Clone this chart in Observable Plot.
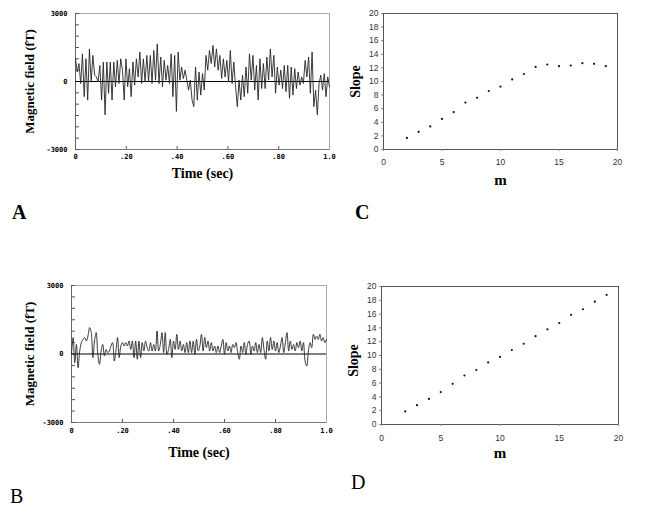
<!DOCTYPE html>
<html><head><meta charset="utf-8">
<script src="https://cdn.jsdelivr.net/npm/d3@7"></script>
<script src="https://cdn.jsdelivr.net/npm/@observablehq/plot@0.6"></script>
<style>
html,body{margin:0;padding:0;background:#fff;}
body{width:653px;height:527px;position:relative;overflow:hidden;}
.panel{position:absolute;}
.letter{position:absolute;font-family:"Liberation Serif",serif;font-size:20px;line-height:20px;color:#000;}
</style></head><body>
<script>
// Panel A: magnetic field trace (fT), evenly sampled over 1 s
const fieldA = [1000, 420, 790, -90, 1220, -670, 1000, -820, 1440, -15, 1150, 280, 200, -15, 710, -820, 860, -1470, 860, -520, 860, -820, 860, -230, 930, -90, 1000, 500, -820, 1000, -230, 570, -670, 860, -160, 1000, 200, 1300, -90, 1000, -15, 1150, -15, 1150, -90, 1370, 60, 1660, -90, 1080, -230, 930, 60, 710, -90, 1220, -670, 1150, -1320, 1300, 60, 640, 130, 500, 60, -380, 60, -820, -1110, 640, -820, 420, -600, 350, -380, 1150, 500, 1370, 790, 1590, 640, 1440, 500, 1150, 130, 1000, 200, 930, -15, 1370, -90, 860, -230, -1110, 60, -820, 280, -670, 640, -520, 1220, 60, 1150, -380, 710, -820, 1000, -310, 790, -310, 1080, 60, 1440, 200, 1150, -520, 640, -160, 500, -310, 710, -450, 710, -740, 640, -600, 570, -310, 420, -160, 200, -90, 930, 200, 1080, -520, 1300, -1110, -380, -1470, -90, 280, -380, 350, -670, 200, -230];
// Panel B: magnetic field trace (fT), evenly sampled over 1 s
const fieldB = [-15, 720, -380, 420, -600, 130, 500, 640, 720, 570, 790, 1160, 940, -160, 570, 940, -15, -450, 130, 420, -90, 200, 60, 130, 350, 500, -310, 130, 720, -160, 350, 500, 350, 500, 350, 570, 200, 570, -160, 570, -230, 570, -160, 500, 130, 570, 280, 130, 500, 130, 420, 130, 1010, 130, 420, 940, 60, 940, -15, 200, 640, -160, 570, 200, 860, 200, 570, 130, 420, 60, 500, 60, 570, 60, 570, -15, 640, 130, 350, 860, 130, 720, 280, 570, 130, 500, 130, 350, 60, 350, 60, 350, 640, -15, 500, 130, 350, 60, 420, 280, 500, 60, -230, 350, 60, 500, -15, 420, 570, -15, 350, 130, 500, 60, 420, 60, 720, 200, -230, 570, 130, 720, 200, 570, 130, 500, 60, 350, 720, 60, 500, 940, 130, 570, 200, 420, 130, 500, 280, 570, 130, 500, -310, -530, 130, 500, 280, 860, 640, 790, 640, 860, 570, 720, 500, 640];
// Panels C and D: slope vs m
const mValues = [2, 3, 4, 5, 6, 7, 8, 9, 10, 11, 12, 13, 14, 15, 16, 17, 18, 19];
const slopeC = [1.7, 2.6, 3.4, 4.5, 5.5, 6.9, 7.6, 8.6, 9.25, 10.3, 11.1, 12.15, 12.5, 12.25, 12.35, 12.7, 12.6, 12.25];
const slopeD = [1.9, 2.8, 3.7, 4.7, 5.9, 7.1, 7.9, 9.0, 9.8, 10.8, 11.7, 12.8, 13.8, 14.7, 15.9, 16.7, 17.8, 18.8];
// Tick values and labels
const timeTicks = [0, 0.2, 0.4, 0.6, 0.8, 1.0];
const timeTickLabels = ["0", ".20", ".40", ".60", ".80", "1.0"];
const fieldTicks = [-3000, 0, 3000];
const fieldTickLabels = ["-3000", "0", "3000"];
const fieldMinorTicks = [-3000, -2500, -2000, -1500, -1000, -500, 0, 500, 1000, 1500, 2000, 2500, 3000];
const slopeTicks = [0, 2, 4, 6, 8, 10, 12, 14, 16, 18, 20];
const mTicks = [0, 5, 10, 15, 20];
const panelLetters = ["A", "B", "C", "D"];

function place(node, left, top) {
  const d = document.createElement("div");
  d.className = "panel";
  d.style.left = left + "px";
  d.style.top = top + "px";
  d.appendChild(node);
  document.body.appendChild(d);
}

function signalPlot(values, o) {
  const W = 340, H = 200;
  const pw = W - o.ml - o.mr, ph = H - o.mt - o.mb;
  const data = values.map((v, i) => ({t: i / (values.length - 1), v}));
  return Plot.plot({
    width: W, height: H,
    marginLeft: o.ml, marginRight: o.mr, marginTop: o.mt, marginBottom: o.mb,
    x: {domain: [0, 1]},
    y: {domain: [-3000, 3000]},
    style: {background: "transparent", fontFamily: "DejaVu Sans Mono", fontSize: "7px", color: "#000", overflow: "visible"},
    marks: [
      Plot.frame({stroke: "#a8a8a8"}),
      Plot.ruleX([0], {stroke: "#666"}),
      Plot.ruleY([-3000], {stroke: "#777"}),
      Plot.tickY(fieldMinorTicks, {y: d => d, stroke: "#555", insetRight: pw - 4}),
      Plot.tickX(timeTicks.slice(1, -1), {x: d => d, stroke: "#555", insetTop: ph - 3}),
      Plot.ruleY([0], {stroke: "#000"}),
      Plot.line(data, {x: "t", y: "v", stroke: "#262626", strokeWidth: 0.9, curve: o.curve}),
      Plot.axisY(fieldTicks, {tickSize: 0, tickPadding: 8, fontWeight: "bold", label: null,
        tickFormat: d => fieldTickLabels[fieldTicks.indexOf(d)]}),
      Plot.axisX(timeTicks, {tickSize: 0, tickPadding: o.xpad, fontWeight: "bold", label: null,
        tickFormat: d => timeTickLabels[timeTicks.indexOf(d)]}),
      Plot.text(["Magnetic field (fT)"], {frameAnchor: "left", dx: o.ylabDx, rotate: -90, textAnchor: "middle", lineAnchor: "middle",
        fontFamily: "Liberation Serif", fontWeight: "bold", fontSize: 13}),
      Plot.text(["Time (sec)"], {frameAnchor: "bottom", dy: o.xlabDy, textAnchor: "middle", lineAnchor: "middle",
        fontFamily: "Liberation Serif", fontWeight: "bold", fontSize: 14})
    ]
  });
}

function slopePlot(values, o) {
  const W = 313, H = 200;
  const data = mValues.map((m, i) => ({m, s: values[i]}));
  return Plot.plot({
    width: W, height: H,
    marginLeft: o.ml, marginRight: o.mr, marginTop: o.mt, marginBottom: o.mb,
    x: {domain: [0, 20]},
    y: {domain: [0, 20]},
    style: {background: "transparent", fontFamily: "Liberation Sans", fontSize: "8.5px", color: "#333", overflow: "visible"},
    marks: [
      Plot.frame({stroke: "#555"}),
      Plot.axisY(slopeTicks, {tickSize: 2, tickPadding: 3, stroke: "#888", label: null}),
      Plot.axisX(mTicks, {tickSize: 2, tickPadding: o.xpad, stroke: "#888", label: null}),
      Plot.dot(data, {x: "m", y: "s", r: 1.1, fill: "#111", stroke: null}),
      Plot.text(["Slope"], {frameAnchor: "left", dx: o.ylabDx, dy: o.ylabDy, rotate: -90, textAnchor: "middle", lineAnchor: "middle",
        fontFamily: "Liberation Serif", fontWeight: "bold", fontSize: 14, fill: "#000"}),
      Plot.text(["m"], {frameAnchor: "bottom", dy: o.xlabDy, textAnchor: "middle", lineAnchor: "middle",
        fontFamily: "Liberation Serif", fontWeight: "bold", fontSize: 15, fill: "#000"})
    ]
  });
}

place(signalPlot(fieldA, {ml: 75, mr: 11, mt: 13, mb: 51, ylabDx: -46, xlabDy: 24, xpad: 5, curve: "linear"}), 0, 0);
place(signalPlot(fieldB, {ml: 71, mr: 14, mt: 15, mb: 48, ylabDx: -42, xlabDy: 30, xpad: 6, curve: "catmull-rom"}), 0, 270);
place(slopePlot(slopeC, {ml: 43, mr: 36, mt: 13, mb: 51, ylabDx: -28, ylabDy: 0, xlabDy: 31, xpad: 7}), 340, 0);
place(slopePlot(slopeD, {ml: 41, mr: 35, mt: 16, mb: 46, ylabDx: -28, ylabDy: 5, xlabDy: 29, xpad: 8}), 340, 270);

const letterPos = [[12, 202, "bold"], [10, 486, "normal"], [355, 202, "bold"], [351, 472, "normal"]];
panelLetters.forEach((L, i) => {
  const d = document.createElement("div");
  d.className = "letter";
  d.textContent = L;
  d.style.left = letterPos[i][0] + "px";
  d.style.top = letterPos[i][1] + "px";
  d.style.fontWeight = letterPos[i][2];
  document.body.appendChild(d);
});
</script>
</body></html>
